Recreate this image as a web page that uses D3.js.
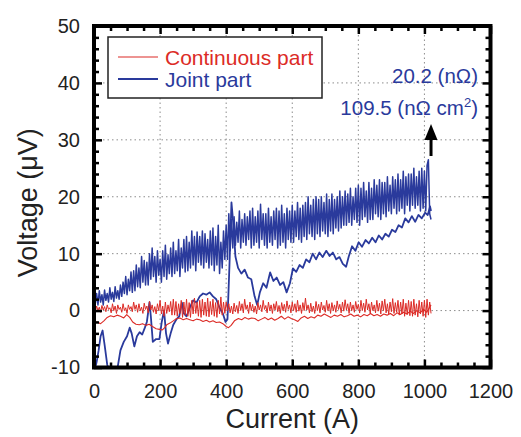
<!DOCTYPE html>
<html>
<head>
<meta charset="utf-8">
<script src="https://cdn.jsdelivr.net/npm/d3@7"></script>
<style>
  body { margin: 0; background: #fff; }
  text { font-family: "Liberation Sans", Arial, sans-serif; }
</style>
</head>
<body>
<div id="canvas"></div>
<script>
// Voltage vs current, joint part and continuous part (up ramp + down ramp)

// ---- data ----
const xMajor = [0, 200, 400, 600, 800, 1000, 1200];
const yMajor = [-10, 0, 10, 20, 30, 40, 50];

// ramp-up sampling (A), shared by both up-ramp series
const rampUpCurrent = [
  0,4,8,12,16,20,24,28,32,36,
  40,44,48,52,56,60,64,68,72,76,
  80,84,88,92,96,100,104,108,112,116,
  120,124,128,132,136,140,144,148,152,156,
  160,164,168,172,176,180,184,188,192,196,
  200,204,208,212,216,220,224,228,232,236,
  240,244,248,252,256,260,264,268,272,276,
  280,284,288,292,296,300,304,308,312,316,
  320,324,328,332,336,340,344,348,352,356,
  360,364,368,372,376,380,384,388,392,396,
  400,404,408,412,416,420,424,428,432,436,
  440,444,448,452,456,460,464,468,472,476,
  480,484,488,492,496,500,504,508,512,516,
  520,524,528,532,536,540,544,548,552,556,
  560,564,568,572,576,580,584,588,592,596,
  600,604,608,612,616,620,624,628,632,636,
  640,644,648,652,656,660,664,668,672,676,
  680,684,688,692,696,700,704,708,712,716,
  720,724,728,732,736,740,744,748,752,756,
  760,764,768,772,776,780,784,788,792,796,
  800,804,808,812,816,820,824,828,832,836,
  840,844,848,852,856,860,864,868,872,876,
  880,884,888,892,896,900,904,908,912,916,
  920,924,928,932,936,940,944,948,952,956,
  960,964,968,972,976,980,984,988,992,996,
  1000,1004,1008,1012,1016,1020];

// joint part, ramp up (uV) - noisy band
const jointUp = [
  2.5,1.2,3.0,1.0,3.5,1.5,2.8,1.0,3.6,1.8,
  3.0,1.5,4.0,2.0,3.2,1.6,4.2,2.2,3.5,2.0,
  4.5,2.5,5.0,3.0,6.0,2.8,5.5,3.5,6.8,3.2,
  7.0,3.5,8.0,4.2,7.5,4.0,9.5,5.0,8.8,4.5,
  8.5,4.5,10.0,5.5,11.0,6.0,9.5,5.0,10.5,6.2,
  9.0,5.0,10.5,6.0,11.5,5.5,9.8,6.5,11.0,6.0,
  12.0,6.5,10.5,7.0,12.5,6.0,11.0,7.5,12.5,6.8,
  13.0,7.0,12.0,7.5,14.0,8.0,13.0,7.0,13.8,8.5,
  13.0,8.0,14.0,7.5,13.5,8.5,12.5,7.5,14.0,8.0,
  14.5,7.0,13.0,8.0,15.0,6.5,12.0,7.5,14.0,9.0,
  15.0,9.0,17.0,10.5,16.0,11.0,16.5,11.5,15.5,12.0,
  17.5,11.0,16.0,12.0,17.0,11.5,16.5,12.5,17.5,11.0,
  18.0,11.5,16.5,12.0,17.5,11.0,18.7,12.5,17.0,11.5,
  17.0,11.0,18.0,12.0,16.5,11.5,17.5,12.5,18.0,11.0,
  17.5,11.5,18.5,12.0,17.0,11.0,18.0,12.5,17.5,12.0,
  18.5,12.0,17.5,13.0,19.0,12.5,18.0,12.0,18.5,13.0,
  19.0,12.5,20.0,13.5,18.5,13.0,19.5,12.5,20.0,13.5,
  19.5,13.0,20.0,14.0,19.0,13.5,20.5,13.0,19.5,14.0,
  20.5,13.5,19.5,14.5,20.0,14.0,21.0,14.5,20.0,15.0,
  21.0,15.0,20.5,15.5,21.5,15.0,20.0,16.0,21.5,15.5,
  22.0,15.0,21.5,16.0,22.5,16.5,21.0,15.5,22.5,16.0,
  21.5,16.0,23.0,17.0,22.0,16.5,23.0,16.0,22.5,17.0,
  22.5,16.5,23.5,17.5,22.0,17.0,23.5,18.0,23.0,17.0,
  24.0,17.5,23.0,18.0,24.5,17.0,23.5,18.5,24.0,17.5,
  24.0,18.5,25.0,18.0,23.5,18.5,24.5,17.5,25.0,18.0,
  24.5,17.5,25.5,26.5,17.0,16.0];

// continuous part, ramp up (uV)
const contUp = [
  0.5,-0.2,0.8,0.0,0.6,-0.3,0.9,0.1,0.7,-0.2,
  1.0,0.2,0.5,-0.4,1.2,0.0,0.8,-0.5,1.0,0.2,
  0.6,-0.3,1.2,0.0,0.5,-0.5,1.0,0.2,0.7,-0.2,
  1.5,0.2,1.0,-0.3,1.2,0.0,0.6,-0.5,1.3,0.2,
  0.8,-0.4,1.6,0.1,1.0,-0.3,0.7,-0.6,1.2,0.0,
  1.8,-0.6,0.8,-1.0,1.5,-0.5,1.0,-0.2,1.6,-0.8,
  2.0,-0.8,1.6,-1.0,1.2,-0.5,1.8,-1.2,1.5,-0.8,
  2.0,-1.0,1.4,-1.2,1.8,-0.6,2.2,-0.5,1.5,-1.0,
  1.8,-1.2,2.0,-0.8,1.5,-1.0,2.2,-1.1,1.6,-0.7,
  2.0,-1.0,1.4,-1.2,1.8,-0.6,2.4,-0.8,1.5,-0.5,
  1.5,0.0,1.2,-0.4,0.8,-0.6,1.3,-0.2,0.9,-0.5,
  1.6,0.0,1.2,-0.4,2.0,0.2,1.0,-0.5,1.5,0.0,
  1.1,-0.3,0.8,-0.6,1.4,0.1,1.0,-0.2,1.8,0.2,
  0.9,-0.4,1.5,0.0,1.0,-0.5,1.2,0.1,1.6,-0.2,
  0.9,-0.5,1.4,0.0,1.1,-0.3,1.7,0.2,1.0,-0.4,
  1.5,0.0,1.2,-0.3,1.8,-0.1,1.0,-0.5,1.4,0.0,
  2.2,0.1,1.0,-0.4,1.3,-0.2,0.8,-0.5,1.6,0.0,
  1.1,-0.4,1.5,0.1,0.9,-0.3,1.8,0.0,1.2,-0.5,
  1.4,0.0,1.0,-0.3,1.7,0.2,1.1,-0.4,1.5,-0.1,
  1.9,0.1,1.2,-0.5,1.5,0.0,1.0,-0.3,1.6,0.2,
  1.1,-0.4,1.8,0.0,1.3,-0.3,2.0,0.1,1.2,-0.5,
  1.5,0.0,1.0,-0.4,1.8,-0.1,1.3,-0.6,1.7,0.0,
  2.0,-0.4,1.2,-0.6,1.5,-0.2,2.1,-0.5,1.4,-0.3,
  1.8,-0.8,1.5,-0.6,2.0,-1.0,1.3,-0.7,1.8,-0.9,
  1.6,-1.0,2.0,-0.8,1.2,-1.1,1.8,-0.6,1.5,-1.0,
  1.8,-1.2,2.0,-0.8,1.5,-0.5];

// joint part, ramp down (stored in increasing current)
const jointDownCurrent = [0,8,14,20,26,32,40,48,60,70,80,90,100,108,114,122,130,138,146,154,160,168,172,178,188,198,
  205,212,218,224,232,240,250,258,266,272,280,290,300,310,320,330,340,350,360,370,380,390,398,404,410,416,422,428,
  436,446,456,466,476,486,494,502,512,522,533,543,553,563,573,583,593,602,612,622,632,642,652,662,672,682,692,
  703,713,723,733,743,753,763,771,781,791,801,811,822,832,842,852,862,872,882,892,902,912,922,932,942,952,962,
  972,982,992,1002,1010,1017,1020];
const jointDown = [-11,-9,-7,-4.5,-3.5,-6,-9.5,-11,-12,-10.5,-7,-5.5,-4.5,-3,-4,-6.3,-4.5,-3.8,-4.2,-3,-2,1.5,-1,-5.5,-5,-5,
  -2,0,-4,-5.8,-4,-2.5,-1.5,-1,1.4,-0.5,-1,0.5,1.8,1.4,2.5,3,2.8,3.2,2.5,2,0.5,-0.5,-2,-1.5,8,19,15,9.5,
  7.5,6.5,7.2,5.8,5.5,2.5,1.0,3.2,4.8,4.0,6.7,5.2,5.8,4.5,5.0,3.2,4.8,7.4,6.8,8.0,7.5,9.0,8.5,10.0,9.0,10.2,9.4,
  10.5,9.6,10.2,9.0,9.4,8.2,7.7,9.5,11.3,10.5,12.0,11.2,12.4,11.8,12.8,12.0,13.2,12.5,13.5,13.0,14.2,13.8,15.0,14.6,16.2,15.5,16.6,
  15.6,16.8,16.2,17.2,16.8,18.3,17.5];

// continuous part, ramp down
const contDownCurrent = [0,10,20,30,40,50,60,70,80,90,99,108,117,127,137,147,157,167,177,188,198,207,214,220,230,240,
  250,260,270,280,290,300,310,320,330,340,350,360,370,380,390,400,407,415,425,437,447,457,467,477,487,497,507,517,
  527,537,547,557,567,577,587,597,607,617,627,637,647,657,667,677,687,697,707,717,727,737,747,757,767,777,787,797,
  807,817,827,837,847,857,867,877,887,897,907,917,927,937,947,957,967,977,987,997,1007,1015,1020];
const contDown = [-2.2,-2.0,-2.3,-1.8,-1.2,-0.9,-1.1,-0.8,-1.0,-1.3,-0.7,-1.2,-2.0,-2.4,-2.5,-2.3,-2.6,-2.4,-2.8,-3.2,-3.3,
  -3.4,-3.0,-2.5,-2.2,-1.8,-1.4,-1.3,-1.6,-1.4,-1.6,-1.8,-1.5,-1.6,-1.9,-1.7,-2.0,-1.8,-2.1,-2.0,-2.3,-2.8,-3.0,-2.6,
  -1.8,-1.4,-1.6,-1.2,-1.5,-1.3,-1.4,-1.8,-1.5,-1.2,-1.6,-1.3,-1.7,-1.4,-1.0,-1.5,-1.1,-1.4,-1.6,-1.9,-1.3,-1.0,-1.4,
  -1.1,-1.3,-0.8,-1.0,-0.6,-0.9,-1.2,-0.8,-1.0,-0.7,-1.1,-0.9,-0.6,-1.0,-0.8,-1.1,-0.7,-0.9,-0.5,-0.9,-0.7,-1.0,-0.6,
  -0.8,-0.5,-0.9,-0.4,-0.7,-0.3,-0.6,-0.1,-0.5,0.0,-0.4,0.2,-0.3,0.5,1.0];

const seriesNames = ["Continuous part", "Joint part"];
const seriesColors = ["#dc2b26", "#2a3a9c"];

// ---- layout ----
const width = 521;
const height = 437;
const marginTop = 26;
const marginRight = 30.5;
const marginBottom = 69.5;
const marginLeft = 94;

const x = d3.scaleLinear().domain([0, 1200]).range([marginLeft, width - marginRight]);
const y = d3.scaleLinear().domain([-10, 50]).range([height - marginBottom, marginTop]);

const svg = d3.select("#canvas")
  .append("svg")
  .attr("width", width)
  .attr("height", height)
  .attr("viewBox", [0, 0, width, height])
  .style("background-color", "white");

svg.append("defs").append("clipPath")
  .attr("id", "plot-clip")
  .append("rect")
  .attr("x", x(0)).attr("y", y(50))
  .attr("width", x(1200) - x(0)).attr("height", y(-10) - y(50));

// dotted grid
const grid = svg.append("g")
  .attr("stroke", "#8c8c8c")
  .attr("stroke-width", 1)
  .attr("stroke-dasharray", "1.5,3");
grid.selectAll("line.gx")
  .data(xMajor.slice(1, -1))
  .join("line")
  .attr("x1", d => x(d)).attr("x2", d => x(d))
  .attr("y1", y(50)).attr("y2", y(-10));
grid.selectAll("line.gy")
  .data(yMajor.slice(1, -1))
  .join("line")
  .attr("x1", x(0)).attr("x2", x(1200))
  .attr("y1", d => y(d)).attr("y2", d => y(d));

// data lines
const line = d3.line().x(d => x(d[0])).y(d => y(d[1]));
const plot = svg.append("g").attr("clip-path", "url(#plot-clip)").attr("fill", "none").attr("stroke-linejoin", "round");

plot.append("path")
  .datum(d3.zip(jointDownCurrent, jointDown))
  .attr("stroke", seriesColors[1]).attr("stroke-width", 1.8)
  .attr("d", line);
plot.append("path")
  .datum(d3.zip(rampUpCurrent, jointUp))
  .attr("stroke", seriesColors[1]).attr("stroke-width", 1.5)
  .attr("d", line);
plot.append("path")
  .datum(d3.zip(contDownCurrent, contDown))
  .attr("stroke", seriesColors[0]).attr("stroke-width", 1.1)
  .attr("d", line);
plot.append("path")
  .datum(d3.zip(rampUpCurrent, contUp))
  .attr("stroke", seriesColors[0]).attr("stroke-width", 1)
  .attr("d", line);

// axes, ticks pointing inward on all four sides
const xMinor = d3.range(0, 1201, 50).filter(v => v % 200);
const yMinor = d3.range(-10, 51, 2).filter(v => v % 10);

function styleAxis(g) {
  g.select(".domain").remove();
  g.selectAll(".tick line").attr("stroke", "#000").attr("stroke-width", 2.5);
  g.selectAll(".tick text").attr("fill", "#222").attr("font-size", 20);
}

svg.append("g")
  .attr("transform", `translate(0,${y(-10)})`)
  .call(d3.axisBottom(x).tickValues(xMajor).tickSize(-8).tickPadding(16).tickFormat(d => String(d)))
  .call(styleAxis);
svg.append("g")
  .attr("transform", `translate(0,${y(-10)})`)
  .call(d3.axisBottom(x).tickValues(xMinor).tickSize(-5).tickFormat(""))
  .call(styleAxis);
svg.append("g")
  .attr("transform", `translate(0,${y(50)})`)
  .call(d3.axisTop(x).tickValues(xMajor).tickSize(-8).tickFormat(""))
  .call(styleAxis);
svg.append("g")
  .attr("transform", `translate(0,${y(50)})`)
  .call(d3.axisTop(x).tickValues(xMinor).tickSize(-5).tickFormat(""))
  .call(styleAxis);

svg.append("g")
  .attr("transform", `translate(${x(0)},0)`)
  .call(d3.axisLeft(y).tickValues(yMajor).tickSize(-8).tickPadding(14).tickFormat(d => String(d)))
  .call(styleAxis);
svg.append("g")
  .attr("transform", `translate(${x(0)},0)`)
  .call(d3.axisLeft(y).tickValues(yMinor).tickSize(-5).tickFormat(""))
  .call(styleAxis);
svg.append("g")
  .attr("transform", `translate(${x(1200)},0)`)
  .call(d3.axisRight(y).tickValues(yMajor).tickSize(-8).tickFormat(""))
  .call(styleAxis);
svg.append("g")
  .attr("transform", `translate(${x(1200)},0)`)
  .call(d3.axisRight(y).tickValues(yMinor).tickSize(-5).tickFormat(""))
  .call(styleAxis);

// frame
svg.append("rect")
  .attr("x", x(0)).attr("y", y(50))
  .attr("width", x(1200) - x(0)).attr("height", y(-10) - y(50))
  .attr("fill", "none").attr("stroke", "#000").attr("stroke-width", 4);

// axis titles
svg.append("text")
  .attr("x", (x(0) + x(1200)) / 2).attr("y", 428)
  .attr("text-anchor", "middle").attr("font-size", 27).attr("fill", "#222")
  .text("Current (A)");
svg.append("text")
  .attr("transform", `translate(37,${(y(-10) + y(50)) / 2 + 6}) rotate(-90)`)
  .attr("text-anchor", "middle").attr("font-size", 27).attr("fill", "#222")
  .text("Voltage (μV)");

// legend
const legend = svg.append("g");
legend.append("rect")
  .attr("x", 108).attr("y", 37).attr("width", 214).attr("height", 61)
  .attr("fill", "white").attr("stroke", "#222").attr("stroke-width", 1.5);
legend.selectAll("line")
  .data(seriesNames)
  .join("line")
  .attr("x1", 118).attr("x2", 158)
  .attr("y1", (d, i) => 57 + i * 22).attr("y2", (d, i) => 57 + i * 22)
  .attr("stroke", (d, i) => seriesColors[i])
  .attr("stroke-width", (d, i) => i ? 1.8 : 1.1);
legend.selectAll("text")
  .data(seriesNames)
  .join("text")
  .attr("x", 165).attr("y", (d, i) => 64.5 + i * 22)
  .attr("font-size", 21)
  .attr("fill", (d, i) => seriesColors[i])
  .text(d => d);

// resistance annotation + arrow
svg.append("text")
  .attr("x", 478).attr("y", 83)
  .attr("text-anchor", "end").attr("font-size", 20.5).attr("fill", seriesColors[1])
  .text("20.2 (nΩ)");
const t2 = svg.append("text")
  .attr("x", 478).attr("y", 115)
  .attr("text-anchor", "end").attr("font-size", 20.5).attr("fill", seriesColors[1]);
t2.append("tspan").text("109.5 (nΩ cm");
t2.append("tspan").attr("font-size", 13).attr("dy", -8).text("2");
t2.append("tspan").attr("dy", 8).text(")");

svg.append("line")
  .attr("x1", x(1020)).attr("x2", x(1020))
  .attr("y1", 156).attr("y2", 138)
  .attr("stroke", "#000").attr("stroke-width", 3);
svg.append("path")
  .attr("d", `M${x(1020)},124 L${x(1020) - 6.5},140 L${x(1020) + 6.5},140 Z`)
  .attr("fill", "#000");
</script>
</body>
</html>
